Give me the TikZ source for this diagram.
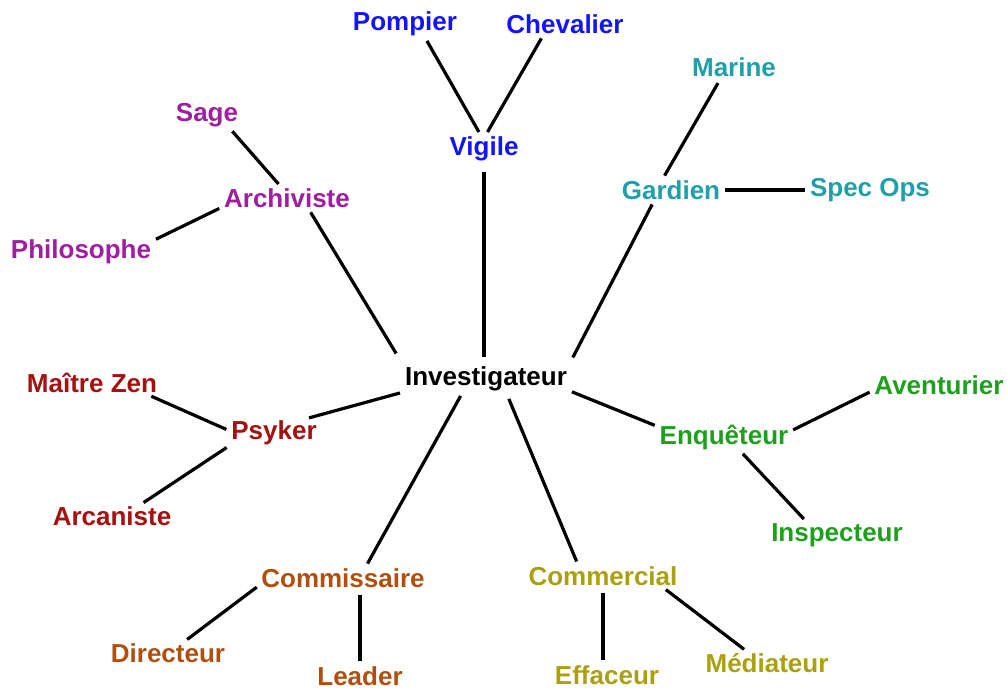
\documentclass[tikz,border=0pt]{standalone}
\usepackage{fontspec}
\setmainfont{Liberation Sans}
\usepackage{tikz}
\usetikzlibrary{positioning,calc}
\definecolor{vigblue}{RGB}{20,20,250}
\definecolor{gardteal}{RGB}{30,160,170}
\definecolor{archpurple}{RGB}{160,30,160}
\definecolor{psyred}{RGB}{165,16,16}
\definecolor{enqgreen}{RGB}{30,160,30}
\definecolor{comsbrown}{RGB}{176,80,16}
\definecolor{comcolive}{RGB}{170,160,16}
\tikzstyle{job} = [rectangle, inner sep=2pt, draw=none, font=\fontsize{26}{30}\selectfont\bfseries, text centered]
\tikzstyle{vigile} = [job, text=vigblue]
\tikzstyle{gardien} = [job, text=gardteal]
\tikzstyle{archiviste} = [job, text=archpurple]
\tikzstyle{psyker} = [job, text=psyred]
\tikzstyle{enqueteur} = [job, text=enqgreen]
\tikzstyle{commissaire} = [job, text=comsbrown]
\tikzstyle{commercial} = [job, text=comcolive]
\tikzstyle{link} = [line width=3.2pt, black, shorten >=3pt, shorten <=3pt]

\begin{document}
\begin{tikzpicture}[x=1pt,y=-1pt]

\useasboundingbox (0,0) rectangle (1007,691);

\node (inv) [job] at (486,379) {Investigateur};

\node (vig) [vigile] at (484,149) {Vigile};
\node (pomp) [vigile] at (405,24) {Pompier};
\node (chev) [vigile] at (565,24) {Chevalier};

\node (gard) [gardien] at (671,190) {Gardien};
\node (mar) [gardien] at (734,67) {Marine};
\node (spec) [gardien] at (870,190) {Spec Ops};

\node (arch) [archiviste] at (287,198) {Archiviste};
\node (sage) [archiviste] at (207,115) {Sage};
\node (philo) [archiviste] at (81,252) {Philosophe};

\node (psy) [psyker] at (274,433) {Psyker};
\node (zen) [psyker] at (92,383) {Maître Zen};
\node (arca) [psyker] at (112,516) {Arcaniste};

\node (enq) [enqueteur] at (724,437) {Enquêteur};
\node (aven) [enqueteur] at (939,385) {Aventurier};
\node (insp) [enqueteur] at (837,535) {Inspecteur};

\node (coms) [commissaire] at (343,578) {Commissaire};
\node (dir) [commissaire] at (168,653) {Directeur};
\node (lead) [commissaire] at (360,676) {Leader};

\node (comc) [commercial] at (603,576) {Commercial};
\node (eff) [commercial] at (607,675) {Effaceur};
\node (med) [commercial] at (767,663) {Médiateur};

%links
\draw [link] (pomp.-35) -- (vig.104);
\draw [link] (chev.-152) -- (vig.82);
\draw [link,shorten <=9pt,shorten >=8pt] (vig.south) -- (vig.south |- inv.north);

\draw [link,shorten <=5pt] (mar.221) -- (gard.124);
\draw [link] (gard.east) -- (spec.west);
\draw [link,shorten >=8pt] (gard.214) -- (inv.north east);

\draw [link] (sage.-31) -- (arch.119);
\draw [link] (arch.188) -- (philo.9);
\draw [link,shorten >=13pt] (arch.-28) -- (inv.north west);

\draw [link] (zen.-12) -- (psy.177);
\draw [link] (psy.196) -- (arca.22);
\draw [link] (psy.24) -- (inv.189);

\draw [link] (inv.-8) -- (enq.171);
\draw [link] (enq.5) -- (aven.185);
\draw [link] (enq.-41) -- (insp.156);

\draw [link] (inv.211) -- (coms.27);
\draw [link] (coms.185) -- (dir.35);
\draw [link,shorten <=5pt] (lead.north |- coms.south) -- (lead.north);

\draw [link,shorten <=6pt] (inv.-35) -- (comc.155);
\draw [link,shorten <=5pt] (comc.south) -- (comc.south |- eff.north);
\draw [link] (comc.-11) -- (med.150);

\end{tikzpicture}
\end{document}
